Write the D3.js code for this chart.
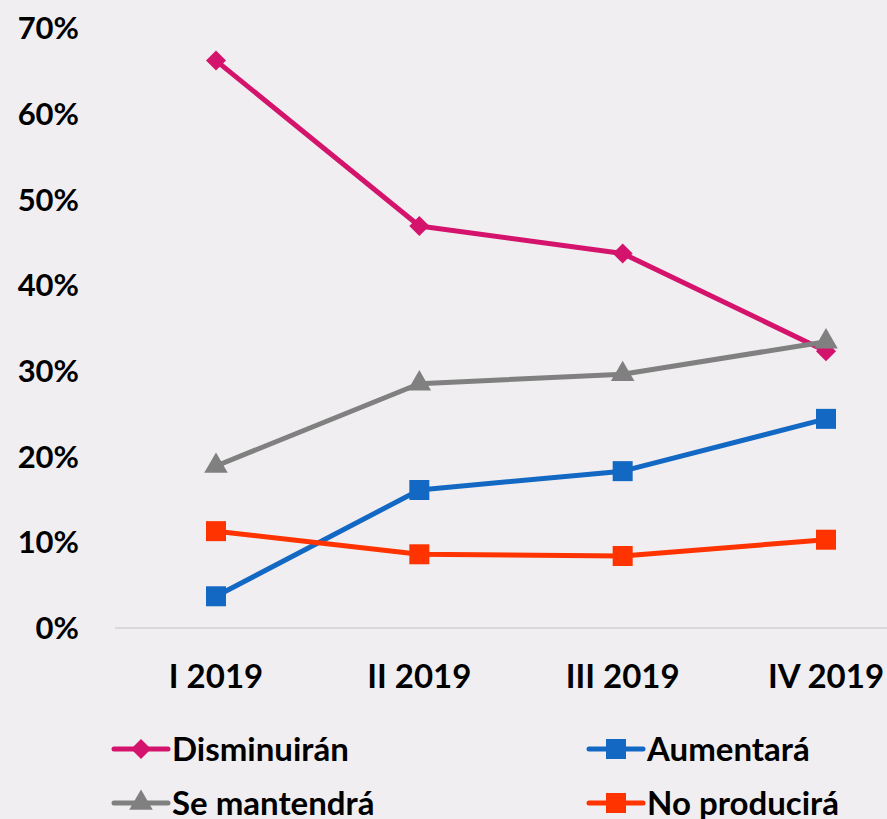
<!DOCTYPE html>
<html>
<head>
<meta charset="utf-8">
<script src="https://cdn.jsdelivr.net/npm/d3@7"></script>
<style>
  html, body { margin: 0; padding: 0; background: #f0eef0; }
  svg { display: block; }
</style>
</head>
<body>
<div id="chart"></div>
<script>
const categories = ['I 2019', 'II 2019', 'III 2019', 'IV 2019'];
const yTicks = [0, 0.1, 0.2, 0.3, 0.4, 0.5, 0.6, 0.7];

const disminuiran = [0.662, 0.469, 0.437, 0.323];
const aumentara = [0.037, 0.161, 0.183, 0.244];
const seMantendra = [0.189, 0.285, 0.296, 0.334];
const noProducira = [0.113, 0.086, 0.084, 0.103];

const series = [
  { name: 'Disminuirán', values: disminuiran, color: '#d4146c', marker: 'diamond' },
  { name: 'Aumentará', values: aumentara, color: '#1368c4', marker: 'square' },
  { name: 'Se mantendrá', values: seMantendra, color: '#808080', marker: 'triangle' },
  { name: 'No producirá', values: noProducira, color: '#ff3300', marker: 'square' }
];

const width = 887, height = 819;
const font = 'Lato, "Open Sans", sans-serif';

const svg = d3.select('#chart').append('svg')
  .attr('width', width)
  .attr('height', height);

svg.append('rect').attr('width', width).attr('height', height).attr('fill', '#f0eef0');

const x = d3.scalePoint().domain(categories).range([216, 826]);
const y = d3.scaleLinear().domain([0, 0.7]).range([628, 28]);

// y labels
svg.append('g').selectAll('text')
  .data(yTicks)
  .enter().append('text')
  .attr('x', 79)
  .attr('y', (d) => y(d))
  .attr('dy', '0.36em')
  .attr('text-anchor', 'end')
  .attr('font-family', font)
  .attr('font-weight', 'bold')
  .attr('font-size', '31px')
  .attr('fill', '#000')
  .text((d) => d3.format('.0%')(d));

// baseline
svg.append('line')
  .attr('x1', 115).attr('x2', 887)
  .attr('y1', y(0)).attr('y2', y(0))
  .attr('stroke', '#d9d9d9')
  .attr('stroke-width', 2);

// x labels
svg.append('g').selectAll('text')
  .data(categories)
  .enter().append('text')
  .attr('x', (d) => x(d))
  .attr('y', 676)
  .attr('dy', '0.36em')
  .attr('text-anchor', 'middle')
  .attr('font-family', font)
  .attr('font-weight', 'bold')
  .attr('font-size', '33px')
  .attr('fill', '#000')
  .text((d) => d);

const symbolFor = (m) => {
  if (m === 'diamond') return d3.symbol().type(d3.symbolSquare).size(200)();
  if (m === 'triangle') return d3.symbol().type(d3.symbolTriangle).size(240)();
  return d3.symbol().type(d3.symbolSquare).size(400)();
};
const rotFor = (m) => (m === 'diamond' ? ' rotate(45)' : '');

const line = d3.line()
  .x((d, i) => x(categories[i]))
  .y((d) => y(d));

series.forEach((s) => {
  const g = svg.append('g');
  g.append('path')
    .attr('d', line(s.values))
    .attr('fill', 'none')
    .attr('stroke', s.color)
    .attr('stroke-width', 5)
    .attr('stroke-linejoin', 'round');
  g.selectAll('path.marker')
    .data(s.values)
    .enter().append('path')
    .attr('class', 'marker')
    .attr('d', symbolFor(s.marker))
    .attr('transform', (d, i) => `translate(${x(categories[i])},${y(d)})${rotFor(s.marker)}`)
    .attr('fill', s.color);
});

// legend
const legendPos = [
  { x: 112, y: 749 },
  { x: 587, y: 749 },
  { x: 112, y: 803 },
  { x: 587, y: 803 }
];
series.forEach((s, i) => {
  const p = legendPos[i];
  const g = svg.append('g').attr('transform', `translate(${p.x},${p.y})`);
  g.append('line')
    .attr('x1', 2).attr('x2', 56)
    .attr('y1', 0).attr('y2', 0)
    .attr('stroke', s.color)
    .attr('stroke-width', 5)
    .attr('stroke-linecap', 'round');
  g.append('path')
    .attr('d', symbolFor(s.marker))
    .attr('transform', `translate(29,0)${rotFor(s.marker)}`)
    .attr('fill', s.color);
  g.append('text')
    .attr('x', 60)
    .attr('y', 0)
    .attr('dy', '0.36em')
    .attr('font-family', font)
    .attr('font-weight', 'bold')
    .attr('font-size', '33px')
    .attr('fill', '#000')
    .text(s.name);
});
</script>
</body>
</html>
